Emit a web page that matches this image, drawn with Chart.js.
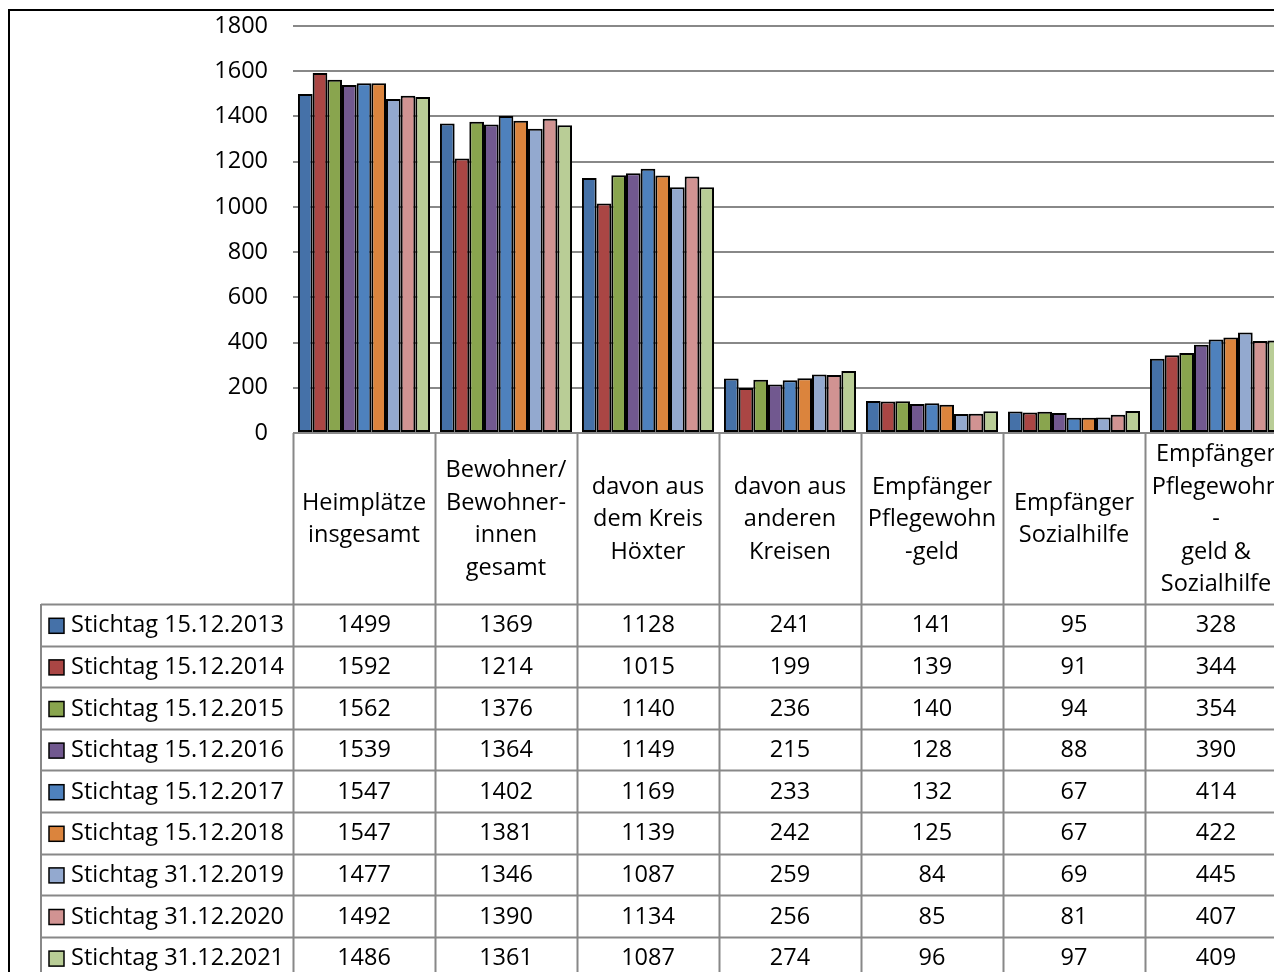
<!DOCTYPE html>
<html>
<head>
<meta charset="utf-8">
<script src="https://cdn.jsdelivr.net/npm/chart.js@4/dist/chart.umd.min.js"></script>
<style>
  html, body { margin: 0; padding: 0; background: #fff; overflow: hidden; }
  #wrap { width: 1274px; height: 972px; overflow: hidden; }
</style>
</head>
<body>
<div id="wrap"><canvas id="chart" width="1300" height="972"></canvas></div>
<script>
// categories (header text, one entry per line)
const categories = [
    ["Heimplätze", "insgesamt"],
    ["Bewohner/", "Bewohner-", "innen", "gesamt"],
    ["davon aus", "dem Kreis", "Höxter"],
    ["davon aus", "anderen", "Kreisen"],
    ["Empfänger", "Pflegewohn", "-geld"],
    ["Empfänger", "Sozialhilfe"],
    ["Empfänger", "Pflegewohn", "-", "geld &", "Sozialhilfe"]
];

const seriesNames = [
    "Stichtag 15.12.2013", "Stichtag 15.12.2014", "Stichtag 15.12.2015",
    "Stichtag 15.12.2016", "Stichtag 15.12.2017", "Stichtag 15.12.2018",
    "Stichtag 31.12.2019", "Stichtag 31.12.2020", "Stichtag 31.12.2021"
];

const s2013 = [1499, 1369, 1128, 241, 141, 95, 328];
const s2014 = [1592, 1214, 1015, 199, 139, 91, 344];
const s2015 = [1562, 1376, 1140, 236, 140, 94, 354];
const s2016 = [1539, 1364, 1149, 215, 128, 88, 390];
const s2017 = [1547, 1402, 1169, 233, 132, 67, 414];
const s2018 = [1547, 1381, 1139, 242, 125, 67, 422];
const s2019 = [1477, 1346, 1087, 259, 84, 69, 445];
const s2020 = [1492, 1390, 1134, 256, 85, 81, 407];
const s2021 = [1486, 1361, 1087, 274, 96, 97, 409];

const yTicks = [0, 200, 400, 600, 800, 1000, 1200, 1400, 1600, 1800];

const seriesValues = [s2013, s2014, s2015, s2016, s2017, s2018, s2019, s2020, s2021];
const colors = ["#4571A8", "#AA4644", "#89A54E", "#71588F", "#4E81BD", "#DB843D", "#93A9CF", "#D19392", "#B9CD96"];

const FONT = "23.5px 'Open Sans'";
const LINE = "#888888";

// draws the frame and the data table under the plot
const tablePlugin = {
    id: "dataTable",
    afterDraw(chart) {
        const ctx = chart.ctx;
        const area = chart.chartArea;
        const x = chart.scales.x;
        const catW = (area.right - area.left) / categories.length;
        const headTop = area.bottom;
        const headBottom = 604;
        const rowH = 41.6;
        const legendLeft = 41;

        ctx.save();
        // outer frame
        ctx.strokeStyle = "#000";
        ctx.lineWidth = 2;
        ctx.beginPath();
        ctx.moveTo(9, 980);
        ctx.lineTo(9, 10);
        ctx.lineTo(1300, 10);
        ctx.stroke();

        // table lines
        ctx.strokeStyle = LINE;
        ctx.lineWidth = 2;
        ctx.beginPath();
        for (let i = 0; i <= categories.length; i++) {
            const px = Math.round(area.left + i * catW) + 0.5;
            ctx.moveTo(px, headTop);
            ctx.lineTo(px, 980);
        }
        ctx.moveTo(legendLeft, headBottom);
        ctx.lineTo(legendLeft, 980);
        for (let r = 0; r <= seriesNames.length; r++) {
            const py = Math.round(headBottom + r * rowH) + 0.5;
            ctx.moveTo(legendLeft, py);
            ctx.lineTo(1300, py);
        }
        ctx.stroke();

        ctx.fillStyle = "#000";
        ctx.font = FONT;
        ctx.textAlign = "center";
        ctx.textBaseline = "middle";
        const lh = 32.5;
        const midY = (headTop + headBottom) / 2 + 1;
        categories.forEach((lines, i) => {
            const cx = x.getPixelForValue(i);
            const y0 = midY - (lines.length - 1) * lh / 2;
            lines.forEach((t, k) => ctx.fillText(t, cx, y0 + k * lh));
        });

        seriesNames.forEach((name, r) => {
            const cy = headBottom + r * rowH + rowH / 2 + 1;
            ctx.fillStyle = colors[r];
            ctx.fillRect(49, cy - 7.5, 15, 15);
            ctx.strokeStyle = "#000";
            ctx.lineWidth = 1.5;
            ctx.strokeRect(49, cy - 7.5, 15, 15);
            ctx.fillStyle = "#000";
            ctx.textAlign = "left";
            ctx.fillText(name, 71, cy);
            ctx.textAlign = "center";
            seriesValues[r].forEach((v, i) => {
                ctx.fillText(String(v), x.getPixelForValue(i), cy);
            });
        });
        ctx.restore();
    }
};

new Chart(document.getElementById("chart").getContext("2d"), {
    type: "bar",
    data: {
        labels: categories.map(c => c.join(" ")),
        datasets: seriesNames.map((name, i) => ({
            label: name,
            data: seriesValues[i],
            backgroundColor: colors[i],
            borderColor: "#000",
            borderWidth: 2,
            borderSkipped: false,
            categoryPercentage: 0.93,
            barPercentage: 1.0
        }))
    },
    options: {
        responsive: false,
        animation: false,
        devicePixelRatio: 1,
        layout: { padding: { top: 26, bottom: 539, left: 0, right: 13 } },
        plugins: { legend: { display: false }, tooltip: { enabled: false } },
        scales: {
            x: { display: false },
            y: {
                min: 0,
                max: 1800,
                afterFit(scale) {
                    scale.width = 293;
                    scale.paddingTop = 0;
                    scale.paddingBottom = 0;
                },
                afterBuildTicks(scale) { scale.ticks = yTicks.map(v => ({ value: v })); },
                ticks: {
                    color: "#000",
                    font: { family: "'Open Sans'", size: 23.5 },
                    padding: 25,
                    callback: v => String(v)
                },
                grid: { color: LINE, lineWidth: 2, drawTicks: false },
                border: { display: false }
            }
        }
    },
    plugins: [tablePlugin]
});
</script>
</body>
</html>
